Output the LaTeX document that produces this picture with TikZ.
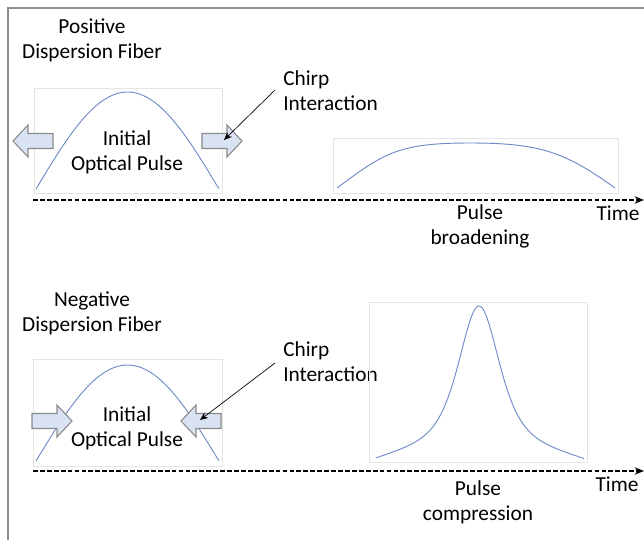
\documentclass[tikz,border=0pt]{standalone}
\usepackage{fontspec}
\setmainfont{Carlito}
\usetikzlibrary{arrows.meta}

\definecolor{framegray}{HTML}{8C8C8C}
\definecolor{boxgray}{HTML}{E4E4E4}
\definecolor{pulseblue}{HTML}{6F8AC8}
\definecolor{arrowfill}{HTML}{DAE3F3}
\definecolor{arrowline}{HTML}{8A8A8A}

\tikzset{
  lbl/.style={inner sep=0pt, align=center, font=\fontsize{16pt}{18.75pt}\selectfont},
  lbll/.style={lbl, align=left, anchor=west},
  plotbox/.style={draw=boxgray, line width=0.6pt},
  pulse/.style={draw=pulseblue, line width=0.7pt},
  timeaxis/.style={line width=1.1pt, dash pattern=on 3.6pt off 1.6pt, -{Stealth[length=7pt,width=5.5pt]}},
  leader/.style={line width=0.5pt, -{Stealth[length=6pt,width=5pt]}},
  blockarrow/.style={fill=arrowfill, draw=arrowline, line width=0.8pt, line join=miter},
  pics/rarrow/.style={code={
    \path[blockarrow] (-20,-7.5) -- (5,-7.5) -- (5,-16) -- (20,0) -- (5,16) -- (5,7.5) -- (-20,7.5) -- cycle;}},
  pics/larrow/.style={code={
    \path[blockarrow] (20,-7.5) -- (-5,-7.5) -- (-5,-16) -- (-20,0) -- (-5,16) -- (-5,7.5) -- (20,7.5) -- cycle;}},
}

\begin{document}
\begin{tikzpicture}[x=0.75pt, y=-0.75pt]
\useasboundingbox (0,0) rectangle (644,540);
\begin{scope}
\clip (0,0) rectangle (644,540);
% outer frame
\draw[framegray, line width=1.2pt] (8,8) rectangle (660,560);
\end{scope}

% ---------------- positive dispersion ----------------
\node[lbl] (posfiber) at (92,40) {Positive\\Dispersion Fiber};

\draw[plotbox] (34,88) rectangle (222,193);
\draw[pulse, domain=0:1, samples=80, smooth] plot ({36+183*\x}, {189 - 97*sin(180*\x)});
\node[lbl] (posinit) at (127,152) {Initial\\Optical Pulse};

\pic at (33,141) {larrow};
\pic at (222,141) {rarrow};
\coordinate (postip) at (224,140);

\node[lbll] (poschirp) at (283,91) {Chirp\\Interaction};
\coordinate (posstart) at (275,90);
\draw[leader] (posstart) -- (postip);

\draw[plotbox] (333,138) rectangle (618,193);
\draw[pulse] (337,188) .. controls (385,152) and (400,143) .. (470,143)
             .. controls (540,143) and (565,152) .. (615,188);

\coordinate (posaxisL) at (33,200);
\coordinate (posaxisR) at (644,200);
\draw[timeaxis] (posaxisL) -- (posaxisR);
\node[lbl] (postime) at (618,213) {Time};
\node[lbl] (broad) at (480,226) {Pulse\\broadening};

% ---------------- negative dispersion ----------------
\node[lbl] (negfiber) at (92,313) {Negative\\Dispersion Fiber};

\draw[plotbox] (33,359) rectangle (222,466);
\draw[pulse, domain=0:1, samples=80, smooth] plot ({36+183*\x}, {461 - 96*sin(180*\x)});
\node[lbl] (neginit) at (127,428) {Initial\\Optical Pulse};

\pic at (52,421) {rarrow};
\pic at (201,421) {larrow};
\coordinate (negtip) at (200,420);

\node[lbll] (negchirp) at (283,362) {Chirp\\Interaction};
\coordinate (negstart) at (275,363);
\draw[leader] (negstart) -- (negtip);

\draw[plotbox] (369,302) rectangle (587,462);
\draw[pulse, domain=-1.03:1.05, samples=160, smooth] plot
  ({479+100*\x}, {458 - 152*( 0.8/(cosh(\x*100/26)*cosh(\x*100/26))
      + 0.2*(1 - (sqrt(\x*\x+0.0064)-0.08)/(sqrt(1.0609+0.0064)-0.08)) )});

\coordinate (negaxisL) at (33,471);
\coordinate (negaxisR) at (644,471);
\draw[timeaxis] (negaxisL) -- (negaxisR);
\node[lbl] (negtime) at (617,484) {Time};
\node[lbl] (compr) at (478,502) {Pulse\\compression};
\end{tikzpicture}
\end{document}
